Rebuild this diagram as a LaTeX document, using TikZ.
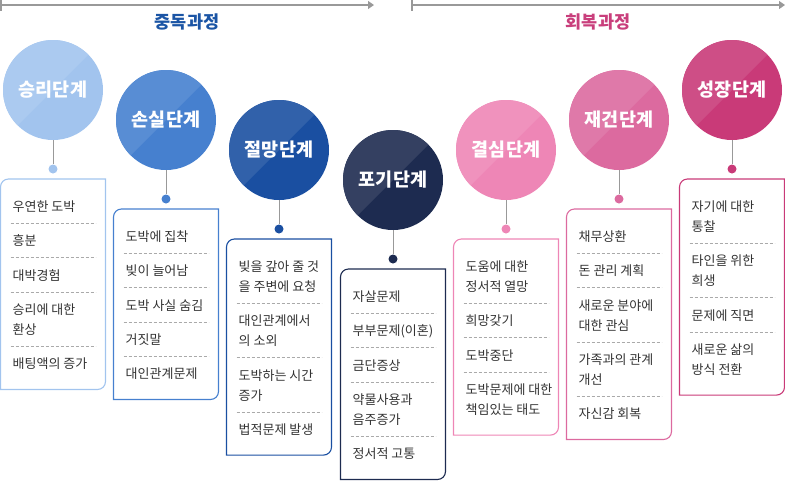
\documentclass[tikz,border=0pt]{standalone}
\usepackage{fontspec}
\setmainfont{Noto Sans CJK KR}
\usetikzlibrary{arrows.meta,calc,positioning}
\definecolor{stemgray}{HTML}{999999}
\definecolor{sepgray}{HTML}{AAAAAA}
\definecolor{itemtext}{HTML}{333333}
\definecolor{addictblue}{HTML}{1B55A5}
\definecolor{recoverpink}{HTML}{C93F7C}
\definecolor{winC}{HTML}{A2C4EE}
\definecolor{lossC}{HTML}{4680CF}
\definecolor{despairC}{HTML}{1A4FA1}
\definecolor{giveupC}{HTML}{1D2B50}
\definecolor{resolveC}{HTML}{EE86B6}
\definecolor{rebuildC}{HTML}{DC6A9F}
\definecolor{growC}{HTML}{C93A78}
\tikzset{
  stage/.style={circle,minimum size=100pt,inner sep=0pt,text=white,
    font=\fontsize{18.5}{20}\selectfont\bfseries},
  stem/.style={draw=stemgray,line width=1pt},
  knob/.style={circle,fill=#1,minimum size=9pt,inner sep=0pt},
  item/.style={anchor=north west,inner sep=0pt,align=left,text=itemtext,
    font=\fontsize{13}{20}\selectfont},
  sepline/.style={draw=sepgray,dash pattern=on 3pt off 2pt,line width=0.8pt},
  panel/.style={draw=#1,line width=1.1pt},
  phase/.style={font=\fontsize{17.5}{20}\selectfont\bfseries},
  timeline/.style={draw=stemgray,line width=1.2pt,-{Triangle[length=6pt,width=8pt]}},
}
\begin{document}
\begin{tikzpicture}[x=1pt,y=1pt]
\useasboundingbox (0,0) rectangle (785,-480);
\def\stageCol#1#2#3#4#5#6{%
  \fill[#4] (#2,-#3) circle (50);
  \begin{scope}
    \clip (#2,-#3) circle (50);
    \fill[#4!90!white] (#2-60,-#3-60) -- (#2+60,-#3+60) -- (#2-60,-#3+60) -- cycle;
  \end{scope}
  \node[stage] (#1) at (#2,-#3) {#5};
  \node[knob=#4] (#1-dot) at (#2,-#3-79) {};
  \draw[stem] (#1) -- (#1-dot);
  \coordinate (#1-tl) at (#2-52.5,-#3-89);
  \coordinate (#1-tr) at (#2+52.5,-#3-89);
  \foreach \txt [count=\k, remember=\k as \prev (initially 0)] in {#6} {%
    \ifnum\k=1
      \node[item] (#1-\k) at ([xshift=12pt,yshift=-18pt]#1-tl) {\strut\txt\strut};
    \else
      \node[item,below=14pt of #1-\prev.south west,anchor=north west] (#1-\k) {\strut\txt\strut};
      \coordinate (#1-s\k) at ([yshift=-6pt]#1-\prev.south west);
      \draw[sepline] ([xshift=10pt]#1-tl |- #1-s\k) -- ([xshift=-10pt]#1-tr |- #1-s\k);
    \fi
    \xdef\lastk{\k}}
  \coordinate (#1-br) at ([yshift=-14.5pt]#1-tr |- #1-\lastk.south);
  \draw[panel=#4] (#1-tl |- #1-br) -- ([yshift=-8pt]#1-tl)
    arc[start angle=180,end angle=90,radius=8pt] -- (#1-tr)
    -- ([yshift=8pt]#1-br) arc[start angle=0,end angle=-90,radius=8pt] -- cycle;}
% time lines
\coordinate (addict-from) at (1,-5);
\coordinate (addict-to) at (374,-5);
\coordinate (recover-from) at (412,-5);
\coordinate (recover-to) at (785,-5);
\draw[timeline] (addict-from) -- (addict-to);
\draw[timeline] (recover-from) -- (recover-to);
\draw[stem,line width=1.2pt] ([yshift=5pt]addict-from) -- ([yshift=-6pt]addict-from);
\draw[stem,line width=1.2pt] ([yshift=5pt]recover-from) -- ([yshift=-6pt]recover-from);
\node[phase,text=addictblue] (addict) at (187,-22) {중독과정};
\node[phase,text=recoverpink] (recover) at (598,-22) {회복과정};
% stages
\stageCol{win}{53}{90}{winC}{승리단계}{우연한 도박, 흥분, 대박경험, {승리에 대한\\환상}, 배팅액의 증가}
\stageCol{loss}{166}{120}{lossC}{손실단계}{도박에 집착, 빚이 늘어남, 도박 사실 숨김, 거짓말, 대인관계문제}
\stageCol{despair}{279}{150}{despairC}{절망단계}{{빚을 갚아 줄 것\\을 주변에 요청}, {대인관계에서\\의 소외}, {도박하는 시간\\증가}, 법적문제 발생}
\stageCol{giveup}{393}{180}{giveupC}{포기단계}{자살문제, 부부문제(이혼), 금단증상, {약물사용과\\음주증가}, 정서적 고통}
\stageCol{resolve}{506}{150}{resolveC}{결심단계}{{도움에 대한\\정서적 열망}, 희망갖기, 도박중단, {도박문제에 대한\\책임있는 태도}}
\stageCol{rebuild}{619}{120}{rebuildC}{재건단계}{채무상환, 돈 관리 계획, {새로운 분야에\\대한 관심}, {가족과의 관계\\개선}, 자신감 회복}
\stageCol{grow}{732}{90}{growC}{성장단계}{{자기에 대한\\통찰}, {타인을 위한\\희생}, 문제에 직면, {새로운 삶의\\방식 전환}}
\end{tikzpicture}
\end{document}
